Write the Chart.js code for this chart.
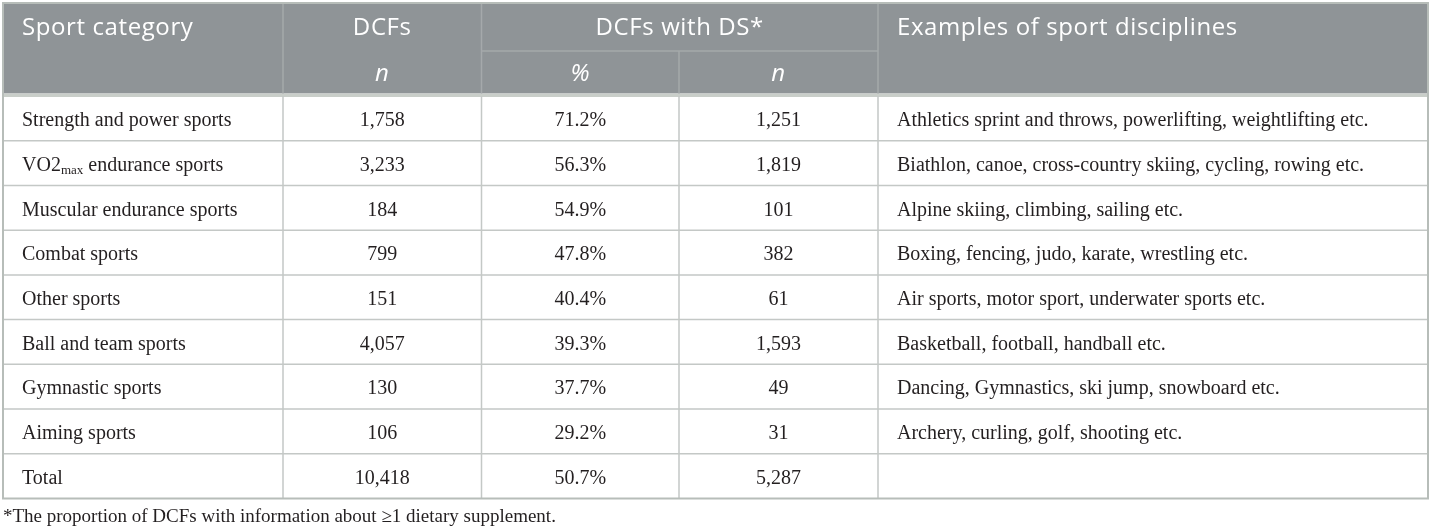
<!DOCTYPE html>
<html>
<head>
<meta charset="utf-8">
<title>Dietary supplements by sport category</title>
<script src="https://cdn.jsdelivr.net/npm/chart.js@4.4.1/dist/chart.umd.min.js"></script>
<style>
    html,body{margin:0;padding:0;background:#ffffff;}
    #tableChart{display:block;}
</style>
</head>
<body>
<canvas id="tableChart" width="1432" height="532"></canvas>
<script>

/* ==========================================
   TABLE DATA
========================================== */

const CATEGORIES = [
    "Strength and power sports",
    "VO2max endurance sports",
    "Muscular endurance sports",
    "Combat sports",
    "Other sports",
    "Ball and team sports",
    "Gymnastic sports",
    "Aiming sports",
    "Total"
];

const DCF_N = [1758, 3233, 184, 799, 151, 4057, 130, 106, 10418];

const DS_PERCENT = [71.2, 56.3, 54.9, 47.8, 40.4, 39.3, 37.7, 29.2, 50.7];

const DS_N = [1251, 1819, 101, 382, 61, 1593, 49, 31, 5287];

const EXAMPLES = [
    "Athletics sprint and throws, powerlifting, weightlifting etc.",
    "Biathlon, canoe, cross-country skiing, cycling, rowing etc.",
    "Alpine skiing, climbing, sailing etc.",
    "Boxing, fencing, judo, karate, wrestling etc.",
    "Air sports, motor sport, underwater sports etc.",
    "Basketball, football, handball etc.",
    "Dancing, Gymnastics, ski jump, snowboard etc.",
    "Archery, curling, golf, shooting etc.",
    ""
];

const HEADERS = ["Sport category", "DCFs", "DCFs with DS*", "Examples of sport disciplines"];

const SUB_HEADERS = ["n", "%", "n"];

const FOOTNOTE = "*The proportion of DCFs with information about \u22651 dietary supplement.";


/* ==========================================
   LAYOUT
========================================== */

// column edges in x-scale units (0 = left border)
const COL_EDGES = [0, 280, 478.5, 676, 875, 1425];

const HEADER_TOP = 3;
const HEADER_MID = 51;
const HEADER_BOTTOM = 93.5;

const COLORS = {
    header: "#8f9497",
    headerLine: "#a5a9ab",
    headerText: "#ffffff",
    band: "#c9cec9",
    line: "#c4c8c6",
    border: "#b7bdb9",
    text: "#231f20"
};

const BODY_FONT = "20px 'Liberation Serif', 'DejaVu Serif', serif";
const SUB_FONT = "13px 'Liberation Serif', 'DejaVu Serif', serif";
const FOOT_FONT = "19px 'Liberation Serif', 'DejaVu Serif', serif";
const HEAD_FONT = "24px 'Open Sans', 'DejaVu Sans', sans-serif";
const HEAD_ITALIC = "italic 24px 'Open Sans', 'DejaVu Sans', sans-serif";


/* ==========================================
   FORMATTERS
========================================== */

function formatCount(value){

    return value.toLocaleString("en-US");

}

function formatPercent(value){

    return value.toFixed(1) + "%";

}


/* ==========================================
   TEXT WITH SUBSCRIPT
========================================== */

function drawCategoryLabel(ctx, label, x, y){

    ctx.textAlign = "left";

    if(label.startsWith("VO2max")){

        ctx.font = BODY_FONT;
        ctx.fillText("VO2", x, y);
        let cursor = x + ctx.measureText("VO2").width;

        ctx.font = SUB_FONT;
        ctx.fillText("max", cursor, y + 5);
        cursor += ctx.measureText("max").width;

        ctx.font = BODY_FONT;
        ctx.fillText(label.slice(6), cursor, y);

        return;

    }

    ctx.font = BODY_FONT;
    ctx.fillText(label, x, y);

}


/* ==========================================
   TABLE PLUGIN
========================================== */

const tablePlugin = {

    id: "tablePlugin",

    afterDraw(chart){

        const ctx = chart.ctx;
        const xScale = chart.scales.x;
        const yScale = chart.scales.y;
        const area = chart.chartArea;

        const edges = COL_EDGES.map(v => xScale.getPixelForValue(v));
        const rowHeight = yScale.height / CATEGORIES.length;

        ctx.save();

        // header background
        ctx.fillStyle = COLORS.header;
        ctx.fillRect(edges[0], HEADER_TOP, edges[5] - edges[0], HEADER_BOTTOM - HEADER_TOP);

        ctx.fillStyle = COLORS.band;
        ctx.fillRect(edges[0], HEADER_BOTTOM, edges[5] - edges[0], area.top - HEADER_BOTTOM + 1);

        // header lines
        ctx.strokeStyle = COLORS.headerLine;
        ctx.lineWidth = 1.5;

        ctx.beginPath();
        [1, 2, 4].forEach(i => {
            ctx.moveTo(edges[i], HEADER_TOP);
            ctx.lineTo(edges[i], HEADER_BOTTOM);
        });
        ctx.moveTo(edges[3], HEADER_MID);
        ctx.lineTo(edges[3], HEADER_BOTTOM);
        ctx.moveTo(edges[2], HEADER_MID);
        ctx.lineTo(edges[4], HEADER_MID);
        ctx.stroke();

        // header text
        ctx.fillStyle = COLORS.headerText;
        ctx.textBaseline = "middle";
        ctx.font = HEAD_FONT;
        ctx.letterSpacing = "0.6px";

        const headY = (HEADER_TOP + HEADER_MID) / 2 + 1;
        const subY = (HEADER_MID + HEADER_BOTTOM) / 2 + 2;

        ctx.textAlign = "left";
        ctx.fillText(HEADERS[0], edges[0] + 19, headY);
        ctx.fillText(HEADERS[3], edges[4] + 19, headY);

        ctx.textAlign = "center";
        ctx.fillText(HEADERS[1], (edges[1] + edges[2]) / 2, headY);
        ctx.fillText(HEADERS[2], (edges[2] + edges[4]) / 2, headY);

        ctx.font = HEAD_ITALIC;
        SUB_HEADERS.forEach((text, i) => {
            ctx.fillText(text, (edges[i + 1] + edges[i + 2]) / 2, subY);
        });

        ctx.letterSpacing = "0px";

        // body grid
        ctx.strokeStyle = COLORS.line;
        ctx.lineWidth = 1.5;
        ctx.beginPath();

        for(let i = 1; i < CATEGORIES.length; i++){
            const y = yScale.getPixelForValue(i) - rowHeight / 2;
            ctx.moveTo(edges[0], y);
            ctx.lineTo(edges[5], y);
        }

        for(let i = 1; i < edges.length - 1; i++){
            ctx.moveTo(edges[i], area.top);
            ctx.lineTo(edges[i], area.bottom);
        }

        ctx.stroke();

        // outer border
        ctx.strokeStyle = COLORS.border;
        ctx.lineWidth = 2;
        ctx.strokeRect(edges[0], HEADER_TOP, edges[5] - edges[0], area.bottom - HEADER_TOP);

        // body text
        ctx.fillStyle = COLORS.text;
        ctx.textBaseline = "middle";

        CATEGORIES.forEach((label, i) => {

            const y = yScale.getPixelForValue(i) + 2.5;

            drawCategoryLabel(ctx, label, edges[0] + 19, y);

            ctx.font = BODY_FONT;
            ctx.textAlign = "center";
            ctx.fillText(formatCount(DCF_N[i]), (edges[1] + edges[2]) / 2, y);
            ctx.fillText(formatPercent(DS_PERCENT[i]), (edges[2] + edges[3]) / 2, y);
            ctx.fillText(formatCount(DS_N[i]), (edges[3] + edges[4]) / 2, y);

            ctx.textAlign = "left";
            ctx.fillText(EXAMPLES[i], edges[4] + 19, y);

        });

        // footnote
        ctx.font = FOOT_FONT;
        ctx.textAlign = "left";
        ctx.fillText(FOOTNOTE, edges[0], area.bottom + 19);

        ctx.restore();

    }

};


/* ==========================================
   CHART
========================================== */

const ctx = document.getElementById("tableChart").getContext("2d");

const tableChart = new Chart(ctx, {

    type: "bar",

    data: {

        labels: CATEGORIES,

        datasets: [{
            label: "DCFs",
            data: DCF_N,
            backgroundColor: "rgba(0,0,0,0)",
            borderWidth: 0
        }]

    },

    options: {

        indexAxis: "y",

        responsive: false,

        animation: false,

        layout: {
            padding: { top: 96, bottom: 33.5, left: 3, right: 4 }
        },

        plugins: {
            legend: { display: false },
            tooltip: { enabled: false }
        },

        scales: {
            x: {
                type: "linear",
                min: 0,
                max: 1425,
                display: false
            },
            y: {
                type: "category",
                offset: true,
                display: false
            }
        }

    },

    plugins: [tablePlugin]

});

</script>
</body>
</html>
